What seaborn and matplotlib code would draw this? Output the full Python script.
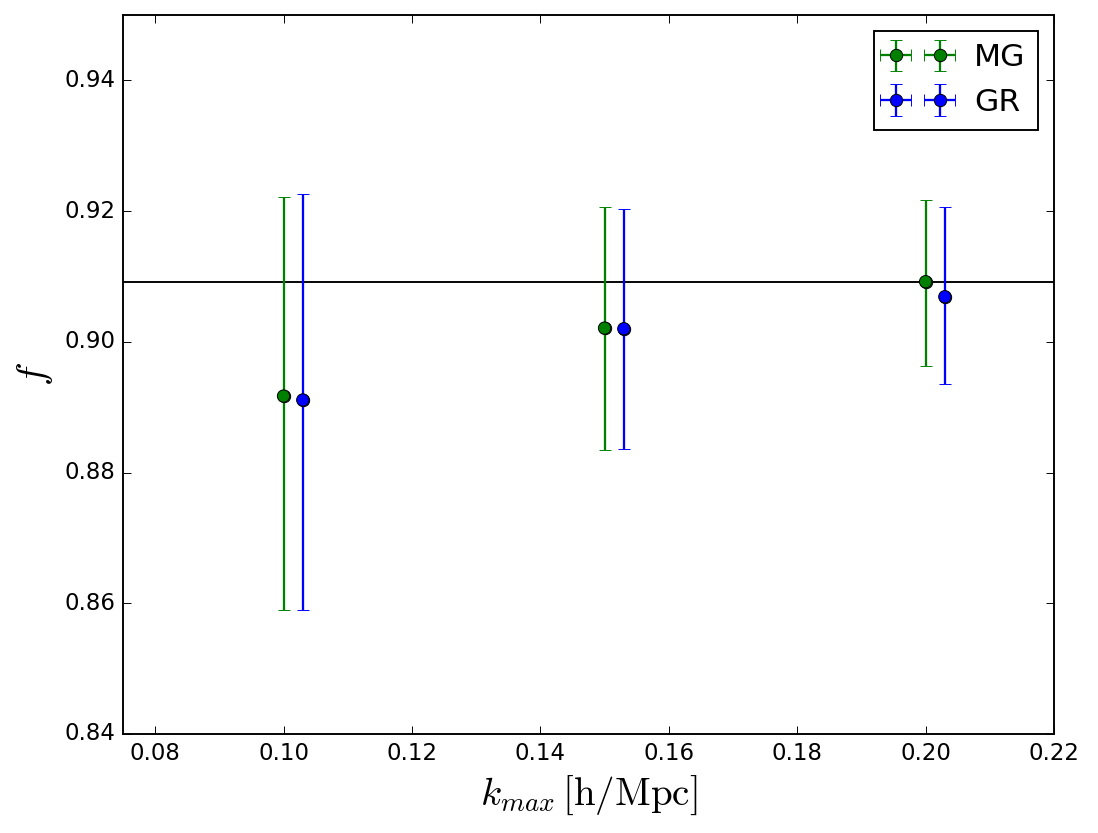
import numpy as np
import pandas as pd
import matplotlib
matplotlib.use("Agg")
import matplotlib.pyplot as plt
import seaborn as sns

# valores
k_mg = [0.100, 0.150, 0.200]
k_gr = [0.103, 0.153, 0.203]
f_mg = [0.8917, 0.9021, 0.9092]
lo_mg = [0.8590, 0.8834, 0.8963]
hi_mg = [0.9221, 0.9207, 0.9217]
f_gr = [0.8911, 0.9020, 0.9069]
lo_gr = [0.8590, 0.8836, 0.8935]
hi_gr = [0.9226, 0.9203, 0.9207]
f_fid = 0.9092

plt.style.use("classic")
dpi = 137
fig = plt.figure(figsize=(1098 / dpi, 833 / dpi), dpi=dpi, facecolor="white")
ax = fig.add_axes([123 / 1098, 99 / 833, 931 / 1098, 719 / 833])

df = pd.DataFrame({
    "k": k_mg + k_gr,
    "f": f_mg + f_gr,
    "lo": lo_mg + lo_gr,
    "hi": hi_mg + hi_gr,
    "model": ["MG"] * 3 + ["GR"] * 3,
})

ax.axhline(f_fid, color="k", lw=1.0, zorder=1)

cores = {"MG": "g", "GR": "b"}
for nome in ["MG", "GR"]:
    d = df[df.model == nome]
    yerr = np.array([d.f - d.lo, d.hi - d.f])
    ax.errorbar(d.k, d.f, yerr=yerr, xerr=np.zeros(len(d)), fmt="o", color=cores[nome],
                ecolor=cores[nome], mec="k", mew=0.5, ms=6.5, capsize=3.3, capthick=2,
                elinewidth=1.2, label=nome, zorder=2)

sns.scatterplot(data=df, x="k", y="f", hue="model", palette=cores, s=42,
                edgecolor="k", linewidth=0.5, legend=False, ax=ax, zorder=3)

ax.set_xlim(0.075, 0.22)
ax.set_ylim(0.84, 0.95)
ax.set_xticks(np.arange(0.08, 0.2201, 0.02))
ax.set_yticks(np.arange(0.84, 0.9401, 0.02))
ax.xaxis.set_major_formatter(matplotlib.ticker.FormatStrFormatter("%.2f"))
ax.yaxis.set_major_formatter(matplotlib.ticker.FormatStrFormatter("%.2f"))
ax.tick_params(labelsize=12)
ax.set_xlabel(r"$k_{max}\,[\mathrm{h/Mpc}]$", fontsize=20.5)
ax.set_ylabel(r"$f$", fontsize=21)
ax.legend(loc="upper right", numpoints=2, fontsize=16.5)

fig.savefig("out.png", dpi=dpi, facecolor="white")
